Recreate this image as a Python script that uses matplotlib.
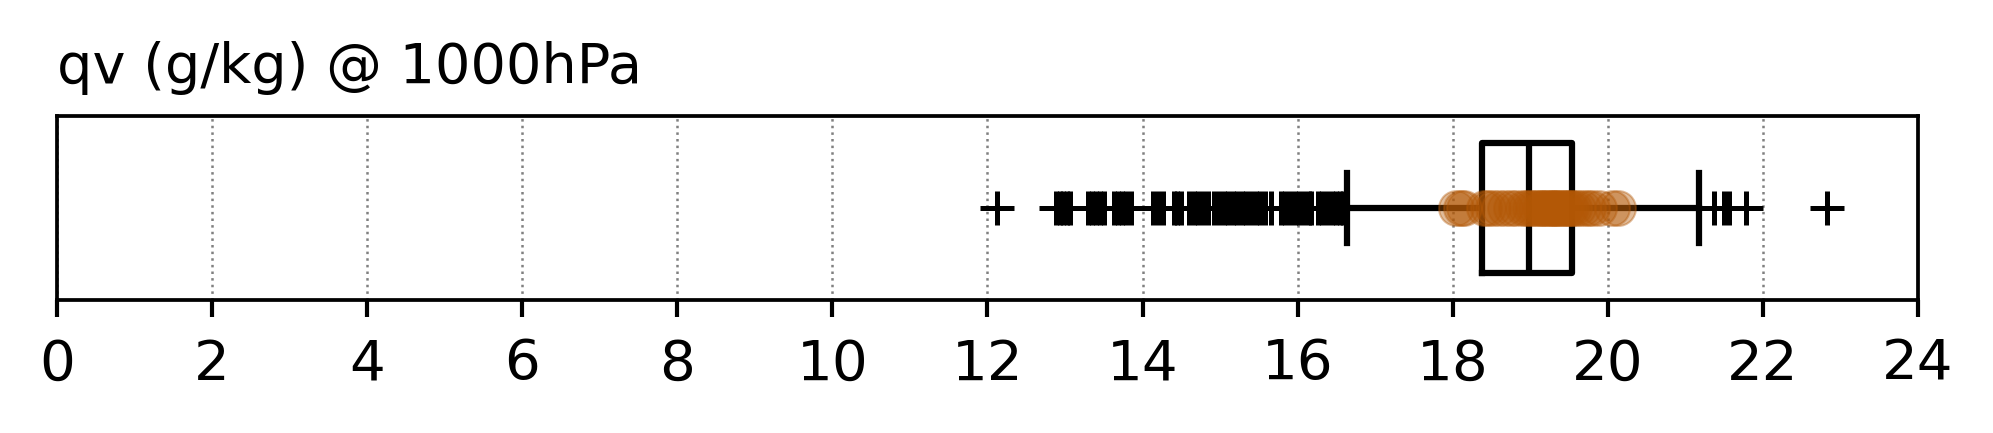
import matplotlib
matplotlib.use("Agg")
import matplotlib.pyplot as plt

title = "qv (g/kg) @ 1000hPa"

# box statistics (g/kg)
q1 = 18.38
median = 18.98
q3 = 19.54
whisker_low = 16.63
whisker_high = 21.18

low_fliers = [12.12, 12.88, 12.93, 12.97, 13.02, 13.07, 13.30, 13.35, 13.40, 13.45, 13.50,
              13.63, 13.68, 13.73, 13.78, 13.85, 14.14, 14.20, 14.26, 14.40, 14.45, 14.50,
              14.60, 14.66, 14.72, 14.78, 14.85, 14.92, 14.98, 15.05, 15.10, 15.16, 15.22,
              15.28, 15.34, 15.40, 15.46, 15.52, 15.58, 15.65, 15.78, 15.84, 15.90, 15.96,
              16.02, 16.08, 16.14, 16.17, 16.26, 16.32, 16.38, 16.44, 16.50, 16.55, 16.58]
high_fliers = [21.37, 21.50, 21.56, 21.78, 22.83]

# overlaid sample points (g/kg)
samples = [18.04, 18.10, 18.15, 18.40, 18.45, 18.52, 18.60, 18.68, 18.75, 18.82, 18.90,
           18.95, 19.00, 19.04, 19.08, 19.12, 19.15, 19.18, 19.22, 19.25, 19.28, 19.30,
           19.33, 19.36, 19.40, 19.43, 19.46, 19.50, 19.53, 19.57, 19.62, 19.68, 19.74,
           19.80, 19.88, 20.05, 20.13]

xticks = list(range(0, 25, 2))

W, H, DPI = 1993, 433, 300
fig = plt.figure(figsize=(W / DPI, H / DPI), dpi=DPI)
ax = fig.add_axes([57 / W, 1 - 300 / H, (1918 - 57) / W, (300 - 116) / H])

stats = [dict(med=median, q1=q1, q3=q3, whislo=whisker_low, whishi=whisker_high,
              fliers=low_fliers + high_fliers)]
lw = 1.5
ax.bxp(stats, positions=[1], widths=0.71, vert=False, showfliers=True,
       boxprops=dict(color="black", linewidth=lw),
       medianprops=dict(color="black", linewidth=lw),
       whiskerprops=dict(color="black", linewidth=lw),
       capprops=dict(color="black", linewidth=lw),
       flierprops=dict(marker="+", markersize=8, markeredgewidth=1.2,
                       markeredgecolor="black", linestyle="none"),
       capwidths=0.385)

ax.scatter(samples, [1] * len(samples), s=70, color="#b35806", alpha=0.4,
           edgecolors="#b35806", linewidths=0.5, zorder=3)

ax.set_xlim(0, 24)
ax.set_ylim(0.5, 1.5)
ax.set_xticks(xticks)
ax.set_xticklabels([str(t) for t in xticks], fontsize=13.5)
ax.set_yticks([])
ax.tick_params(axis="x", length=4, width=1.0, pad=5)
for s in ax.spines.values():
    s.set_linewidth(0.9)
ax.grid(axis="x", linestyle=":", color="grey", linewidth=0.6)
ax.set_axisbelow(True)

fig.text(57 / W, 1 - 83 / H, title, fontsize=13.4, ha="left", va="baseline")

fig.savefig("out.png", dpi=DPI)
